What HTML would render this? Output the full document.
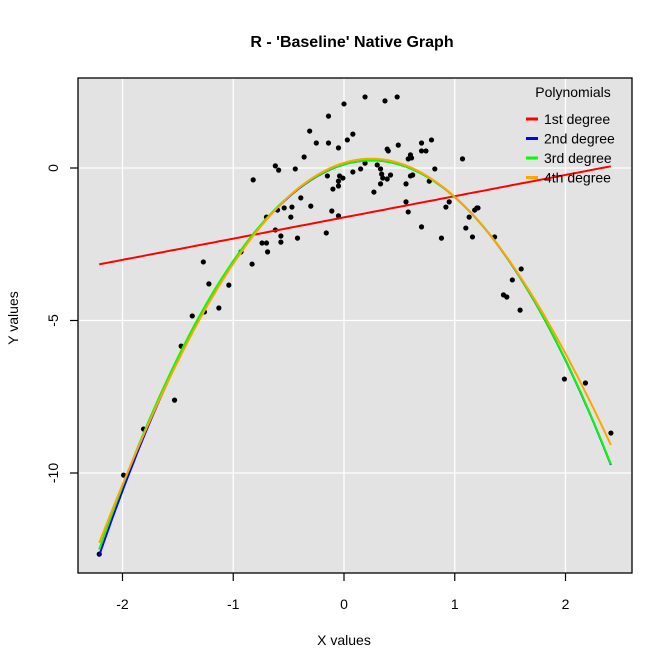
<!DOCTYPE html>
<html><head><meta charset="utf-8"><style>
body{margin:0;background:#fff}
svg{display:block;font-family:"Liberation Sans",Arial,sans-serif}
</style></head><body>
<svg id="c" width="672" height="671" viewBox="0 0 672 671">
<text x="352" y="47" text-anchor="middle" font-size="16" font-weight="bold">R - 'Baseline' Native Graph</text>
<rect x="78" y="78" width="554" height="495" fill="#e3e3e3"/>
<g id="grid"></g>
<g id="pts"></g>
<g id="lines"></g>
<rect x="78" y="78" width="554" height="495" fill="none" stroke="#000" stroke-width="1.3"/>
<g id="axes"></g>
<text x="344" y="645" text-anchor="middle" font-size="14">X values</text>
<text transform="translate(18,318) rotate(-90)" text-anchor="middle" font-size="14">Y values</text>
<g>
<text x="573" y="97" text-anchor="middle" font-size="14">Polynomials</text>
<g id="leg"></g>
</g>
</svg>
<script>
const xTicks=[-2,-1,0,1,2];
const yTicks=[0,-5,-10];
const px=[0.19,0.48,0.37,0,-0.14,-0.31,0.08,-0.25,-0.14,0.03,-0.05,0.49,0.39,0.40,0.70,0.79,0.70,0.74,-0.36,0.60,0.58,0.61,1.07,-0.62,-0.59,-0.44,0.19,0.30,0.15,0.08,0.33,0.82,-0.15,-0.04,-0.01,0.34,0.42,0.35,0.39,0.60,0.62,-0.05,-0.05,-0.10,0.33,0.56,0.77,-0.82,0.27,-0.39,0.95,0.92,-0.54,-0.47,-0.30,0.56,0.58,-0.11,1.20,1.18,-0.48,-0.05,-0.70,-0.60,1.13,0.70,1.10,-0.62,-0.57,-0.16,0.88,1.16,-0.42,-0.57,-0.74,-0.70,-0.69,-0.93,-0.83,-1.27,-1.22,-1.04,-1.13,-1.26,-1.37,-1.47,-1.53,-1.81,-1.99,-2.21,1.21,1.36,1.60,1.52,1.44,1.47,1.59,1.99,2.18,2.41];
const py=[2.33,2.33,2.20,2.10,1.70,1.21,1.11,0.82,0.82,0.92,0.66,0.75,0.62,0.56,0.82,0.92,0.56,0.56,0.36,0.43,0.30,0.33,0.30,0.07,-0.07,-0.03,0.16,0.10,-0.03,-0.13,-0.03,-0.03,-0.26,-0.26,-0.33,-0.20,-0.23,-0.33,-0.36,-0.26,-0.23,-0.43,-0.59,-0.69,-0.52,-0.52,-0.43,-0.39,-0.79,-0.98,-1.11,-1.28,-1.31,-1.28,-1.25,-1.11,-1.44,-1.41,-1.31,-1.38,-1.61,-1.57,-1.61,-1.38,-1.61,-1.93,-1.97,-2.03,-2.23,-2.13,-2.30,-2.26,-2.30,-2.43,-2.46,-2.46,-2.75,-2.75,-3.15,-3.08,-3.80,-3.84,-4.59,-4.72,-4.85,-5.84,-7.61,-8.56,-10.07,-12.66,-1.31,-2.26,-3.31,-3.67,-4.16,-4.23,-4.66,-6.92,-7.05,-8.69];
const fitNames=["1st degree","2nd degree","3rd degree","4th degree"];
const fitColors=["#ff0000","#0000ff","#00ff00","#ffa500"];
const coef1=[-1.62,0.696];
const coef2=[0.116,1.07,-2.14];
const coef3=[0.12,1.05,-2.12,-0.004];
const coef4=[0.17,1.10,-2.25,-0.0063,0.0373];
const xMin=-2.21,xMax=2.41;
const sx=v=>344+v*110.75, sy=v=>168-v*30.5;
const NS="http://www.w3.org/2000/svg";
function mk(t,a,p){const e=document.createElementNS(NS,t);for(const k in a)e.setAttribute(k,a[k]);p.appendChild(e);return e;}
const grid=document.getElementById('grid'),axes=document.getElementById('axes');
xTicks.forEach(t=>{
 const g=mk('line',{x1:sx(t),x2:sx(t),y1:78,y2:573,stroke:'#fff','stroke-width':1.3},grid);
 
 
 const tk=mk('line',{x1:sx(t),x2:sx(t),y1:573,y2:581,stroke:'#000','stroke-width':1.2},axes);
 
 
 const tx=mk('text',{x:sx(t),y:609,'text-anchor':'middle','font-size':14},axes);
 tx.textContent=String(t);
 
 
});
yTicks.forEach(t=>{
 const g=mk('line',{x1:78,x2:632,y1:sy(t),y2:sy(t),stroke:'#fff','stroke-width':1.3},grid);
 
 
 const tk=mk('line',{x1:70,x2:78,y1:sy(t),y2:sy(t),stroke:'#000','stroke-width':1.2},axes);
 
 
 const tx=mk('text',{transform:`translate(58,${sy(t)}) rotate(-90)`,'text-anchor':'middle','font-size':14},axes);
 tx.textContent=String(t);
 
 
});
const pts=document.getElementById('pts');
px.forEach((x,i)=>{
 const c=mk('circle',{cx:sx(x),cy:sy(py[i]),r:2.6,fill:'#000'},pts);
 
 
});
const lines=document.getElementById('lines');
[coef1,coef2,coef3,coef4].forEach((cf,k)=>{
 let d='';
 for(let i=0;i<=120;i++){const x=xMin+(xMax-xMin)*i/120;let y=0;cf.forEach((c,j)=>y+=c*Math.pow(x,j));d+=(i?'L':'M')+sx(x).toFixed(1)+','+sy(y).toFixed(1);}
 const p=mk('path',{d:d,fill:'none',stroke:fitColors[k],'stroke-width':2},lines);
 
 
});
const leg=document.getElementById('leg');
fitNames.forEach((n,k)=>{
 const y=119+k*19.5;
 const l=mk('line',{x1:526,x2:538,y1:y,y2:y,stroke:fitColors[k],'stroke-width':3},leg);
 
 
 const t=mk('text',{x:544,y:y+5,'font-size':14},leg);
 t.textContent=n;
 
 
});
</script>
</body></html>
